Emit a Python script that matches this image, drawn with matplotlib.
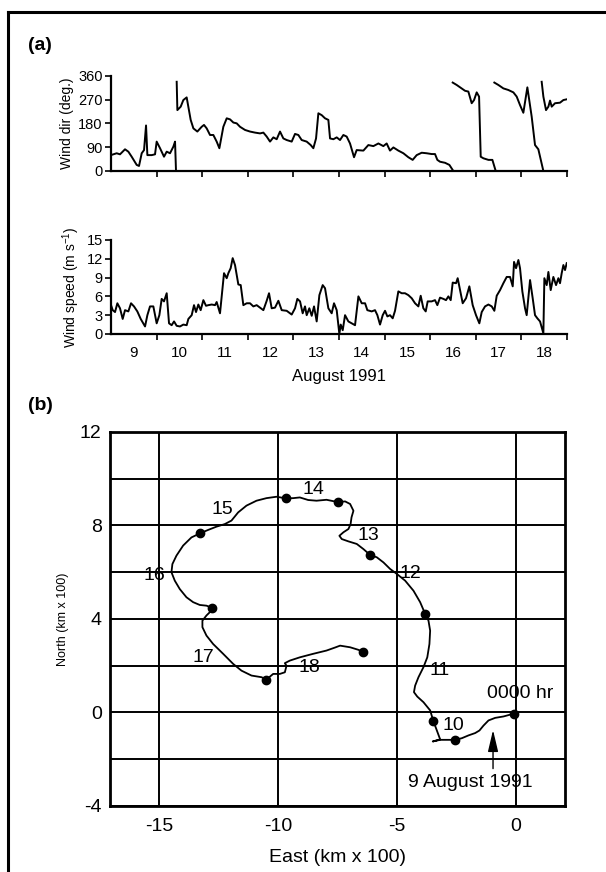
import matplotlib
matplotlib.use("Agg")
import matplotlib.pyplot as plt
from matplotlib.lines import Line2D
import numpy as np

plt.rcParams['font.family'] = ['Liberation Sans', 'DejaVu Sans']
plt.rcParams['axes.unicode_minus'] = False

# ---------------- wind direction (deg), time in days of August 1991 ----------------
# NaN marks the 360 -> 0 wrap-around breaks in the trace
dir_day = [9.015, 9.124, 9.197, 9.307, 9.380, 9.453, 9.563, 9.614, 9.673, 9.724, 9.768, 9.797,
           9.892, 9.965, 10.001, 10.075, 10.162, 10.221, 10.294, 10.367, 10.404, 10.425, np.nan,
           10.440, 10.455, 10.528, 10.586, 10.659, 10.696, 10.747, 10.806, 10.893, 10.988, 11.039,
           11.098, 11.171, 11.244, 11.317, 11.376, 11.463, 11.537, 11.610, 11.683, 11.756, 11.829,
           11.939, 12.048, 12.158, 12.268, 12.341, 12.414, 12.487, 12.560, 12.633, 12.706, 12.779,
           12.852, 12.962, 13.035, 13.108, 13.181, 13.291, 13.379, 13.437, 13.496, 13.547, 13.620,
           13.693, 13.766, 13.803, 13.876, 13.949, 14.022, 14.095, 14.168, 14.241, 14.329, 14.387,
           14.534, 14.643, 14.753, 14.863, 14.972, 15.045, 15.118, 15.192, 15.301, 15.411, 15.520,
           15.615, 15.703, 15.813, 15.923, 16.032, 16.105, 16.156, 16.215, 16.325, 16.420, 16.507,
           np.nan,
           16.493, 16.580, 16.690, 16.763, 16.836, 16.909, 16.961, 17.019, 17.071, 17.107, 17.166,
           17.276, 17.363, 17.436, np.nan,
           17.406, 17.494, 17.604, 17.713, 17.823, 17.896, 17.969, 18.042, 18.130, 18.225, 18.298,
           18.371, 18.481, np.nan,
           18.444, 18.481, 18.539, 18.591, 18.627, 18.664, 18.737, 18.846, 18.920, 19.0]
dir_deg = [61, 67, 63, 82, 73, 54, 23, 19, 67, 79, 172, 60,
           60, 63, 111, 86, 54, 73, 67, 92, 111, 0, np.nan,
           337, 230, 243, 268, 278, 243, 193, 161, 149, 167, 174,
           161, 136, 136, 111, 86, 167, 199, 195, 183, 180, 167,
           155, 149, 145, 142, 145, 130, 111, 127, 120, 149, 123,
           117, 111, 140, 136, 117, 111, 98, 86, 123, 218, 211,
           199, 193, 123, 120, 127, 117, 136, 130, 104, 52, 79,
           77, 98, 94, 104, 94, 104, 77, 89, 77, 67, 52,
           42, 60, 69, 67, 64, 64, 42, 35, 31, 23, 0,
           np.nan,
           334, 325, 312, 303, 300, 256, 268, 297, 281, 54, 48,
           42, 42, 0, np.nan,
           334, 325, 312, 306, 297, 281, 249, 220, 316, 205, 98,
           82, 0, np.nan,
           337, 281, 230, 243, 266, 243, 256, 258, 268, 271]

# ---------------- wind speed (m/s) ----------------
spd_day = [9.0, 9.037, 9.088, 9.139, 9.197, 9.256, 9.307, 9.380, 9.439, 9.504, 9.577, 9.651,
           9.746, 9.797, 9.855, 9.928, 10.001, 10.060, 10.111, 10.162, 10.221, 10.272, 10.330,
           10.382, 10.440, 10.513, 10.586, 10.659, 10.696, 10.769, 10.820, 10.864, 10.915, 10.966,
           11.025, 11.083, 11.135, 11.208, 11.281, 11.317, 11.390, 11.478, 11.537, 11.573, 11.624,
           11.668, 11.719, 11.792, 11.844, 11.902, 11.975, 12.048, 12.121, 12.194, 12.268, 12.341,
           12.414, 12.465, 12.523, 12.596, 12.670, 12.743, 12.852, 12.962, 13.035, 13.086, 13.145,
           13.203, 13.254, 13.291, 13.349, 13.401, 13.452, 13.510, 13.569, 13.642, 13.693, 13.766,
           13.839, 13.890, 13.949, 14.007, 14.037, 14.081, 14.132, 14.205, 14.278, 14.351, 14.425,
           14.498, 14.571, 14.621, 14.716, 14.789, 14.841, 14.899, 14.958, 15.009, 15.060, 15.118,
           15.177, 15.228, 15.301, 15.374, 15.447, 15.520, 15.594, 15.667, 15.740, 15.791, 15.849,
           15.901, 15.944, 16.032, 16.105, 16.156, 16.215, 16.288, 16.346, 16.398, 16.449, 16.493,
           16.566, 16.602, 16.654, 16.712, 16.785, 16.858, 16.931, 17.004, 17.077, 17.129, 17.202,
           17.276, 17.349, 17.406, 17.458, 17.531, 17.604, 17.677, 17.750, 17.809, 17.838, 17.882,
           17.933, 17.969, 18.020, 18.079, 18.115, 18.189, 18.247, 18.298, 18.349, 18.408, 18.481,
           18.503, 18.554, 18.591, 18.642, 18.700, 18.759, 18.810, 18.846, 18.883, 18.920, 18.956,
           18.993]
spd_val = [4.6, 3.8, 3.5, 4.9, 4.1, 2.4, 3.8, 3.6, 4.9, 4.4, 3.6, 2.4,
           1.2, 3.0, 4.4, 4.4, 1.7, 3.0, 5.6, 5.2, 6.5, 1.7, 1.4,
           2.0, 1.3, 1.2, 1.5, 1.4, 2.4, 3.0, 4.6, 3.5, 4.7, 3.8,
           5.4, 4.5, 4.6, 4.7, 4.6, 5.1, 3.3, 9.7, 8.9, 9.7, 10.5,
           12.1, 11.0, 7.9, 7.8, 4.6, 4.9, 4.9, 4.4, 4.6, 4.2, 3.8,
           5.3, 6.5, 4.1, 4.2, 5.3, 3.8, 3.7, 3.1, 4.1, 5.6, 5.2,
           3.3, 4.4, 3.0, 4.1, 2.9, 4.4, 2.0, 6.2, 7.8, 7.3, 4.1,
           3.3, 4.9, 3.8, 0.0, 1.5, 0.6, 3.0, 2.0, 1.7, 1.4, 6.0,
           4.9, 4.9, 3.8, 3.6, 3.8, 3.0, 1.5, 3.0, 3.7, 2.8, 3.0,
           2.5, 3.7, 6.8, 6.5, 6.5, 6.2, 5.7, 4.9, 4.4, 6.1, 4.1,
           3.6, 5.2, 5.2, 5.4, 4.6, 5.8, 5.6, 5.4, 6.0, 5.4, 8.2,
           8.1, 8.9, 7.0, 4.9, 5.7, 7.6, 4.6, 3.0, 1.7, 3.5, 4.4,
           4.7, 4.4, 3.7, 6.1, 7.0, 8.1, 9.1, 9.1, 7.6, 11.5, 10.5,
           11.8, 10.5, 6.8, 4.1, 3.0, 8.6, 5.7, 3.0, 2.5, 2.0, 0.1,
           8.9, 7.8, 9.9, 7.0, 9.1, 7.8, 8.9, 8.1, 9.7, 11.0, 10.2,
           11.3]
day_labels = ['9', '10', '11', '12', '13', '14', '15', '16', '17', '18']

# ---------------- drifter trajectory (km x 100) ----------------
east = [-0.10, -0.53, -0.88, -1.16, -1.37, -1.54, -1.72, -2.00, -2.28, -2.56, -2.91, -3.19,
        -3.50, -3.19, -3.47, -3.61, -3.89, -4.15, -4.29, -4.24, -4.10, -3.89, -3.73, -3.64,
        -3.61, -3.68, -3.82, -4.03, -4.31, -4.66, -5.01, -5.29, -5.57, -5.85, -6.13, -6.41,
        -6.69, -7.04, -7.32, -7.42, -7.25, -7.04, -6.95, -6.91, -6.83, -6.97, -7.18, -7.48,
        -7.96, -8.38, -8.73, -9.08, -9.36, -9.66, -10.06, -10.48, -10.90, -11.32, -11.67,
        -11.95, -12.23, -12.58, -12.93, -13.28, -13.63, -13.98, -14.26, -14.43, -14.47,
        -14.33, -14.12, -13.84, -13.56, -13.28, -13.00, -12.75, -12.79, -13.00, -13.17,
        -13.17, -13.00, -12.72, -12.30, -11.88, -11.53, -11.11, -10.69, -10.48, -10.20,
        -9.92, -9.71, -9.64, -9.71, -9.50, -9.08, -8.52, -7.96, -7.60, -7.39, -6.97, -6.62,
        -6.41]
north = [-0.05, -0.17, -0.23, -0.34, -0.56, -0.77, -0.88, -0.98, -1.10, -1.17, -1.17, -1.17,
         -1.24, -1.15, -0.38, 0.09, 0.44, 0.68, 0.87, 1.15, 1.51, 1.94, 2.36, 2.93,
         3.50, 3.93, 4.22, 4.72, 5.21, 5.64, 5.93, 6.14, 6.42, 6.64, 6.74, 6.99,
         7.21, 7.32, 7.42, 7.56, 7.71, 7.85, 8.06, 8.35, 8.63, 8.92, 9.03, 9.00,
         9.10, 9.06, 9.09, 9.20, 9.17, 9.16, 9.23, 9.17, 9.06, 8.85, 8.56,
         8.21, 8.06, 7.95, 7.81, 7.66, 7.49, 7.14, 6.71, 6.35, 6.00,
         5.64, 5.28, 4.93, 4.72, 4.60, 4.57, 4.47, 4.36, 4.15, 3.93,
         3.65, 3.29, 2.93, 2.51, 2.08, 1.79, 1.58, 1.51, 1.41, 1.65,
         1.65, 1.72, 2.00, 2.11, 2.22, 2.36, 2.51, 2.65, 2.78, 2.86, 2.79, 2.68,
         2.58]
# daily (0000 hr) positions
dot_east = [-0.10, -2.56, -3.47, -3.82, -6.13, -7.48, -9.66, -13.28, -12.75, -10.48, -6.41]
dot_north = [-0.05, -1.17, -0.38, 4.22, 6.74, 9.00, 9.16, 7.66, 4.47, 1.41, 2.58]
traj_days = ['10', '11', '12', '13', '14', '15', '16', '17', '18']
traj_label_xy = [(-2.63, -0.56), (-3.22, 1.79), (-4.45, 5.93), (-6.2, 7.56), (-8.52, 9.56),
                 (-12.34, 8.70), (-15.17, 5.88), (-13.14, 2.36), (-8.66, 1.91)]

fig = plt.figure(figsize=(6.06, 8.72), dpi=100)

# frame around the whole figure (left and top visible)
fig.add_artist(Line2D([0.0132, 0.0132], [0.0, 0.986], color='black', lw=2.2))
fig.add_artist(Line2D([0.0132, 1.0], [0.986, 0.986], color='black', lw=2.2))

# ============================ (a) wind direction ============================
ax1 = fig.add_axes([0.1832, 0.8039, 0.7525, 0.1093])
ax1.plot(dir_day, dir_deg, color='black', lw=1.4)
ax1.set_xlim(9, 19)
ax1.set_ylim(0, 360)
ax1.set_yticks([0, 90, 180, 270, 360])
ax1.set_xticks(range(10, 20))
ax1.set_xticklabels([])
ax1.set_ylabel('Wind dir (deg.)', fontsize=10, labelpad=3)

# ============================ (a) wind speed ============================
ax2 = fig.add_axes([0.1832, 0.6170, 0.7525, 0.1078])
ax2.plot(spd_day, spd_val, color='black', lw=1.4)
ax2.set_xlim(9, 19)
ax2.set_ylim(0, 15)
ax2.set_yticks([0, 3, 6, 9, 12, 15])
ax2.set_xticks(range(10, 20))
ax2.set_xticklabels([])
ax2.set_xticks(np.arange(9.5, 19, 1), minor=True)
ax2.set_xticklabels(day_labels, minor=True)
ax2.tick_params(axis='x', which='minor', length=0, pad=9, labelsize=11)
ax2.set_ylabel('Wind speed (m s$^{\\mathregular{-1}}$)', fontsize=10, labelpad=3)
ax2.set_xlabel('August 1991', fontsize=12, labelpad=6)

for ax in (ax1, ax2):
    for s in ('top', 'right'):
        ax.spines[s].set_visible(False)
    for s in ('left', 'bottom'):
        ax.spines[s].set_linewidth(1.6)
    ax.tick_params(axis='both', which='major', direction='out', length=4, width=1.2,
                   labelsize=10.5, pad=2)

fig.text(0.066, 0.948, '(a)', fontsize=14, fontweight='bold', ha='center', va='center')
fig.text(0.066, 0.535, '(b)', fontsize=14, fontweight='bold', ha='center', va='center')

# ============================ (b) trajectory ============================
ax3 = fig.add_axes([0.1815, 0.0757, 0.7508, 0.4289])
ax3.set_xlim(-17.05, 2.05)
ax3.set_ylim(-4, 12)
ax3.set_xticks([-15, -10, -5, 0])
ax3.set_yticks([-4, 0, 4, 8, 12])
ax3.set_yticks([-2, 2, 6, 10], minor=True)
ax3.grid(True, which='both', color='black', lw=1.4)
ax3.set_axisbelow(True)
ax3.tick_params(which='both', length=0, labelsize=14)
ax3.tick_params(axis='x', pad=9)
ax3.tick_params(axis='y', pad=6)
for s in ax3.spines.values():
    s.set_linewidth(2)

ax3.plot(east, north, color='black', lw=1.3, zorder=3)
ax3.plot(dot_east, dot_north, 'o', color='black', ms=6, zorder=4)
for lab, (lx, ly) in zip(traj_days, traj_label_xy):
    ax3.text(lx, ly, lab, fontsize=14, ha='center', va='center', zorder=5)
ax3.text(0.17, 0.80, '0000 hr', fontsize=14, ha='center', va='center')
ax3.annotate('', xy=(-0.97, -0.75), xytext=(-0.97, -2.4),
             arrowprops=dict(arrowstyle='-|>,head_length=0.55,head_width=0.13',
                             color='black', lw=1.0,
                             mutation_scale=24, shrinkA=0, shrinkB=0))
ax3.text(-1.93, -2.98, '9 August 1991', fontsize=14, ha='center', va='center')
ax3.set_xlabel('East (km x 100)', fontsize=14, labelpad=10)
ax3.set_ylabel('North (km x 100)', fontsize=9, labelpad=8)

fig.savefig('out.png', dpi=100)
